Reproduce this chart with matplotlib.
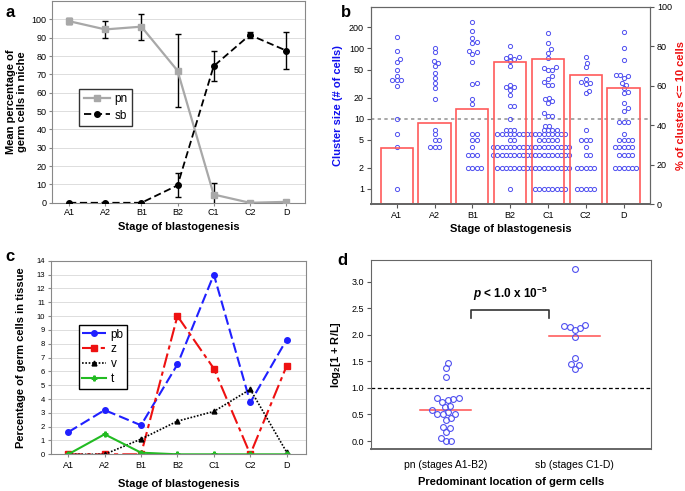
import numpy as np
import matplotlib
matplotlib.use('Agg')
import matplotlib.pyplot as plt
from matplotlib.lines import Line2D

plt.rcParams['font.family'] = ['Liberation Sans', 'DejaVu Sans']
plt.rcParams['mathtext.fontset'] = 'custom'
plt.rcParams['mathtext.rm'] = 'Liberation Sans'
plt.rcParams['mathtext.it'] = 'Liberation Sans:italic:bold'
plt.rcParams['mathtext.bf'] = 'Liberation Sans:bold'

# ---- data ----
stages = ['A1', 'A2', 'B1', 'B2', 'C1', 'C2', 'D']

# panel a
pn_mean = [99, 94.5, 96, 72, 4.5, 0, 0.5]
pn_err = [1.5, 4.8, 7, 20, 6.5, 0.5, 0.5]
sb_mean = [0, 0, 0, 9.5, 74.5, 91.5, 83]
sb_err = [0, 0, 0, 6.5, 8, 1.5, 10]

# panel b
clusters = {
    'A1': [146, 92, 70, 64, 49, 41, 36, 36, 35, 29, 10, 6, 4, 1],
    'A2': [103, 88, 66, 62, 56, 45, 38, 32, 27, 19, 7, 6, 5, 5, 4, 4, 4],
    'B1': [235, 178, 139, 122, 120, 92, 88, 83, 64, 32, 31, 19, 16,
           6, 6, 5, 5, 4, 3, 3, 3, 2, 2, 2, 2],
    'B2': [109, 78, 75, 72, 70, 67, 57, 30, 28, 28, 26, 22, 15, 15, 10]
          + [7] * 3 + [6] * 8 + [5] * 2 + [4] * 9 + [3] * 9 + [2] * 8 + [1],
    'C1': [164, 118, 97, 86, 74, 55, 53, 50, 50, 40, 37, 33, 30, 30, 20, 19,
           18, 17, 12, 11, 11, 8, 8]
          + [7] * 4 + [6] * 9 + [5] * 5 + [4] * 10 + [3] * 10 + [2] * 10 + [1] * 8,
    'C2': [76, 63, 55, 37, 33, 32, 31, 25, 23, 7, 5, 5, 5, 4, 3, 3,
           2, 2, 2, 2, 2, 1, 1, 1, 1, 1],
    'D': [169, 100, 68, 42, 42, 40, 38, 32, 30, 27, 24, 23, 17, 14, 13,
          9, 9, 9, 6, 5, 5, 5, 5, 4, 4, 4, 4, 4, 3, 3, 3, 3, 2, 2, 2, 2, 2, 2],
}
pct_small = [28.4, 40.9, 48, 72, 73.3, 65.2, 58.6]

# panel c
pb = [1.6, 3.2, 2.1, 6.5, 13, 3.75, 8.3]
z = [0, 0, 0, 10, 6.2, 0, 6.4]
v = [0, 0, 1.1, 2.4, 3.1, 4.7, 0.15]
t = [0, 1.45, 0.12, 0, 0, 0, 0]

# panel d
groups_d = ['pn (stages A1-B2)', 'sb (stages C1-D)']
ratio_pn = [1.47, 1.37, 1.20, 0.82, 0.81, 0.79, 0.78, 0.74, 0.66, 0.64, 0.58,
            0.55, 0.51, 0.50, 0.51, 0.43, 0.40, 0.27, 0.25, 0.175, 0.06, 0.0, 0.0]
ratio_sb = [3.25, 2.19, 2.17, 2.15, 2.13, 2.09, 1.96, 1.57, 1.45, 1.43, 1.36]
medians_d = [0.58, 1.97]


def swarm(ax, xc, vals, diam):
    """x offsets (data units) for a simple beeswarm, diam in pixels"""
    vals = np.asarray(vals, dtype=float)
    order = np.argsort(vals)
    ypx = ax.transData.transform(np.column_stack([np.full(len(vals), xc), vals]))[:, 1]
    sx = ax.transData.transform([(1, 1)])[0, 0] - ax.transData.transform([(0, 1)])[0, 0]
    step = diam / 6.0
    placed = []
    offs = np.zeros(len(vals))
    for i in order:
        k = 0
        found = None
        while found is None:
            cands = [0.0] if k == 0 else [k * step, -k * step]
            for c in cands:
                if all((c - px) ** 2 + (ypx[i] - py) ** 2 >= 0.98 * diam ** 2 for px, py in placed):
                    found = c
                    break
            k += 1
        placed.append((found, ypx[i]))
        offs[i] = found / sx
    return offs


fig = plt.figure(figsize=(6.85, 4.91), dpi=100)
grey = '#888888'
tick_fs = 6.5
lab_fs = 8

# ---------------- panel a ----------------
ax = fig.add_axes([0.076, 0.587, 0.369, 0.411])
x = np.arange(len(stages))
ax.set_xlim(-0.47, 6.52)
ax.set_ylim(0, 110)
ax.set_yticks(np.arange(0, 101, 10))
ax.yaxis.grid(True, color='#dddddd', lw=0.7)
ax.set_axisbelow(True)
ax.errorbar(x, pn_mean, yerr=pn_err, color='#a8a8a8', lw=1.6, marker='s', ms=4.5,
            ecolor='black', elinewidth=1, capsize=2, label='pn', zorder=3)
ax.errorbar(x, sb_mean, yerr=sb_err, color='black', lw=1.3, ls=(0, (4, 2)), marker='o',
            ms=4, ecolor='black', elinewidth=1, capsize=2, label='sb', zorder=4)
ax.set_xticks(x, stages)
ax.tick_params(labelsize=tick_fs, length=2, color=grey, pad=2)
for s in ax.spines.values():
    s.set_color(grey)
ax.set_xlabel('Stage of blastogenesis', fontsize=lab_fs, fontweight='bold', labelpad=3)
ax.set_ylabel('Mean percentage of\ngerm cells in niche', fontsize=lab_fs,
              fontweight='bold', labelpad=3)
h_a = [Line2D([], [], color='#a8a8a8', lw=1.6, marker='s', ms=4.5),
       Line2D([], [], color='black', lw=1.3, ls=(0, (4, 2)), marker='o', ms=4)]
leg = ax.legend(h_a, ['pn', 'sb'], loc='upper left', bbox_to_anchor=(0.107, 0.565),
                borderaxespad=0, fontsize=8.5, fancybox=False, edgecolor='#333333',
                framealpha=1, handlelength=2.2, handletextpad=0.4, borderpad=0.4,
                labelspacing=0.35)
leg.get_frame().set_linewidth(1)
fig.text(0.008, 0.975, 'a', fontsize=12, fontweight='bold', va='center')

# ---------------- panel b ----------------
axb = fig.add_axes([0.5416, 0.5845, 0.4073, 0.4018])
axb.set_yscale('log')
axb.set_xlim(-0.68, 6.7)
axb.set_ylim(0.61, 393)
axb.axhline(10, color='#999999', lw=1.2, ls=(0, (2, 2)), zorder=1)
blue = '#5050f0'
for i, st in enumerate(stages):
    vals = clusters[st]
    offs = swarm(axb, i, vals, 4.3)
    axb.plot(i + offs, vals, 'o', ms=3.0, mfc='none', mec=blue, mew=0.7, zorder=3)
yt = [1, 2, 5, 10, 20, 50, 100, 200]
axb.set_yticks(yt, [str(k) for k in yt])
axb.minorticks_off()
axb.set_xticks(x, stages)
axb.tick_params(labelsize=tick_fs, length=3, color='#555555', pad=2)
axb.set_xlabel('Stage of blastogenesis', fontsize=lab_fs, fontweight='bold', labelpad=3)
axb.set_ylabel('Cluster size (# of cells)', fontsize=lab_fs, fontweight='bold',
               color='#1010ee', labelpad=4)
axb2 = axb.twinx()
axb2.set_ylim(0, 100)
axb2.bar(x, pct_small, width=0.85, facecolor='none', edgecolor='#ff5a5a', lw=1.2)
axb2.set_yticks(np.arange(0, 101, 20))
axb2.tick_params(labelsize=tick_fs, length=3, color='#555555', pad=2)
axb2.set_ylabel('% of clusters <= 10 cells', fontsize=lab_fs, fontweight='bold',
                color='#ee1010', labelpad=3)
for a_ in (axb, axb2):
    for s in a_.spines.values():
        s.set_color('#666666')
    a_.spines['bottom'].set_linewidth(1.4)
fig.text(0.497, 0.975, 'b', fontsize=12, fontweight='bold', va='center')

# ---------------- panel c ----------------
axc = fig.add_axes([0.074, 0.0747, 0.3727, 0.3943])
axc.set_xlim(-0.48, 6.53)
axc.set_ylim(0, 14)
axc.set_yticks(np.arange(0, 15, 1))
axc.yaxis.grid(True, color='#dddddd', lw=0.7)
axc.set_axisbelow(True)
axc.plot(x, pb, color='#2020ff', lw=1.5, ls=(0, (5, 2)), marker='o', ms=4, label='pb')
axc.plot(x, z, color='#ee1111', lw=1.5, ls=(0, (7, 2, 2, 2)), marker='s', ms=4, label='z')
axc.plot(x, v, color='black', lw=1.2, ls=(0, (1, 1)), marker='^', ms=3.5, label='v')
axc.plot(x, t, color='#22bb22', lw=1.5, marker='P', ms=3.5, label='t')
axc.set_xticks(x, stages)
axc.tick_params(axis='y', labelsize=5.5, length=2, color=grey, pad=2)
axc.tick_params(axis='x', labelsize=tick_fs, length=2, color=grey, pad=3)
for s in axc.spines.values():
    s.set_color(grey)
axc.set_xlabel('Stage of blastogenesis', fontsize=lab_fs, fontweight='bold', labelpad=6)
axc.set_ylabel('Percentage of germ cells in tissue', fontsize=lab_fs,
               fontweight='bold', labelpad=8)
legc = axc.legend(loc='upper left', bbox_to_anchor=(0.11, 0.668), borderaxespad=0,
                  fontsize=8.5, fancybox=False, edgecolor='black', framealpha=1,
                  handlelength=2.0, handletextpad=0.4, borderpad=0.3, labelspacing=0.25)
legc.get_frame().set_linewidth(1)
fig.text(0.008, 0.478, 'c', fontsize=12, fontweight='bold', va='center')

# ---------------- panel d ----------------
axd = fig.add_axes([0.5412, 0.0849, 0.4088, 0.3855])
axd.set_xlim(0.42, 2.59)
axd.set_ylim(-0.156, 3.41)
axd.axhline(1.0, color='black', lw=0.9, ls=(0, (3, 2)), zorder=1)
for i, vals in enumerate([ratio_pn, ratio_sb]):
    offs = swarm(axd, i + 1, vals, 5.8)
    axd.plot(i + 1 + offs, vals, 'o', ms=4.2, mfc='none', mec=blue, mew=0.8, zorder=3)
    axd.plot([i + 1 - 0.2, i + 1 + 0.2], [medians_d[i], medians_d[i]],
             color='#ff5050', lw=1.1, zorder=2)
axd.plot([1.2, 1.2, 1.8, 1.8], [2.31, 2.47, 2.47, 2.31], color='#333333', lw=1.2)
axd.text(1.5, 2.6, r'$p$ < 1.0 x 10$^{\mathregular{-5}}$', ha='center', va='bottom',
         fontsize=8.5, fontweight='bold')
axd.set_xticks([1, 2], groups_d)
axd.set_yticks(np.arange(0, 3.01, 0.5), [f'{k:.1f}' for k in np.arange(0, 3.01, 0.5)])
axd.tick_params(axis='y', labelsize=tick_fs, length=3, color='#555555', pad=2)
axd.tick_params(axis='x', labelsize=7.5, length=0, pad=8)
for s in axd.spines.values():
    s.set_color('#666666')
axd.spines['bottom'].set_linewidth(1.4)
axd.set_xlabel('Predominant location of germ cells', fontsize=lab_fs,
               fontweight='bold', labelpad=5)
axd.set_ylabel(r'log$_{\mathregular{2}}$[1 + R/L]', fontsize=lab_fs, fontweight='bold',
               labelpad=6)
fig.text(0.492, 0.47, 'd', fontsize=12, fontweight='bold', va='center')

fig.savefig('out.png', dpi=100)
